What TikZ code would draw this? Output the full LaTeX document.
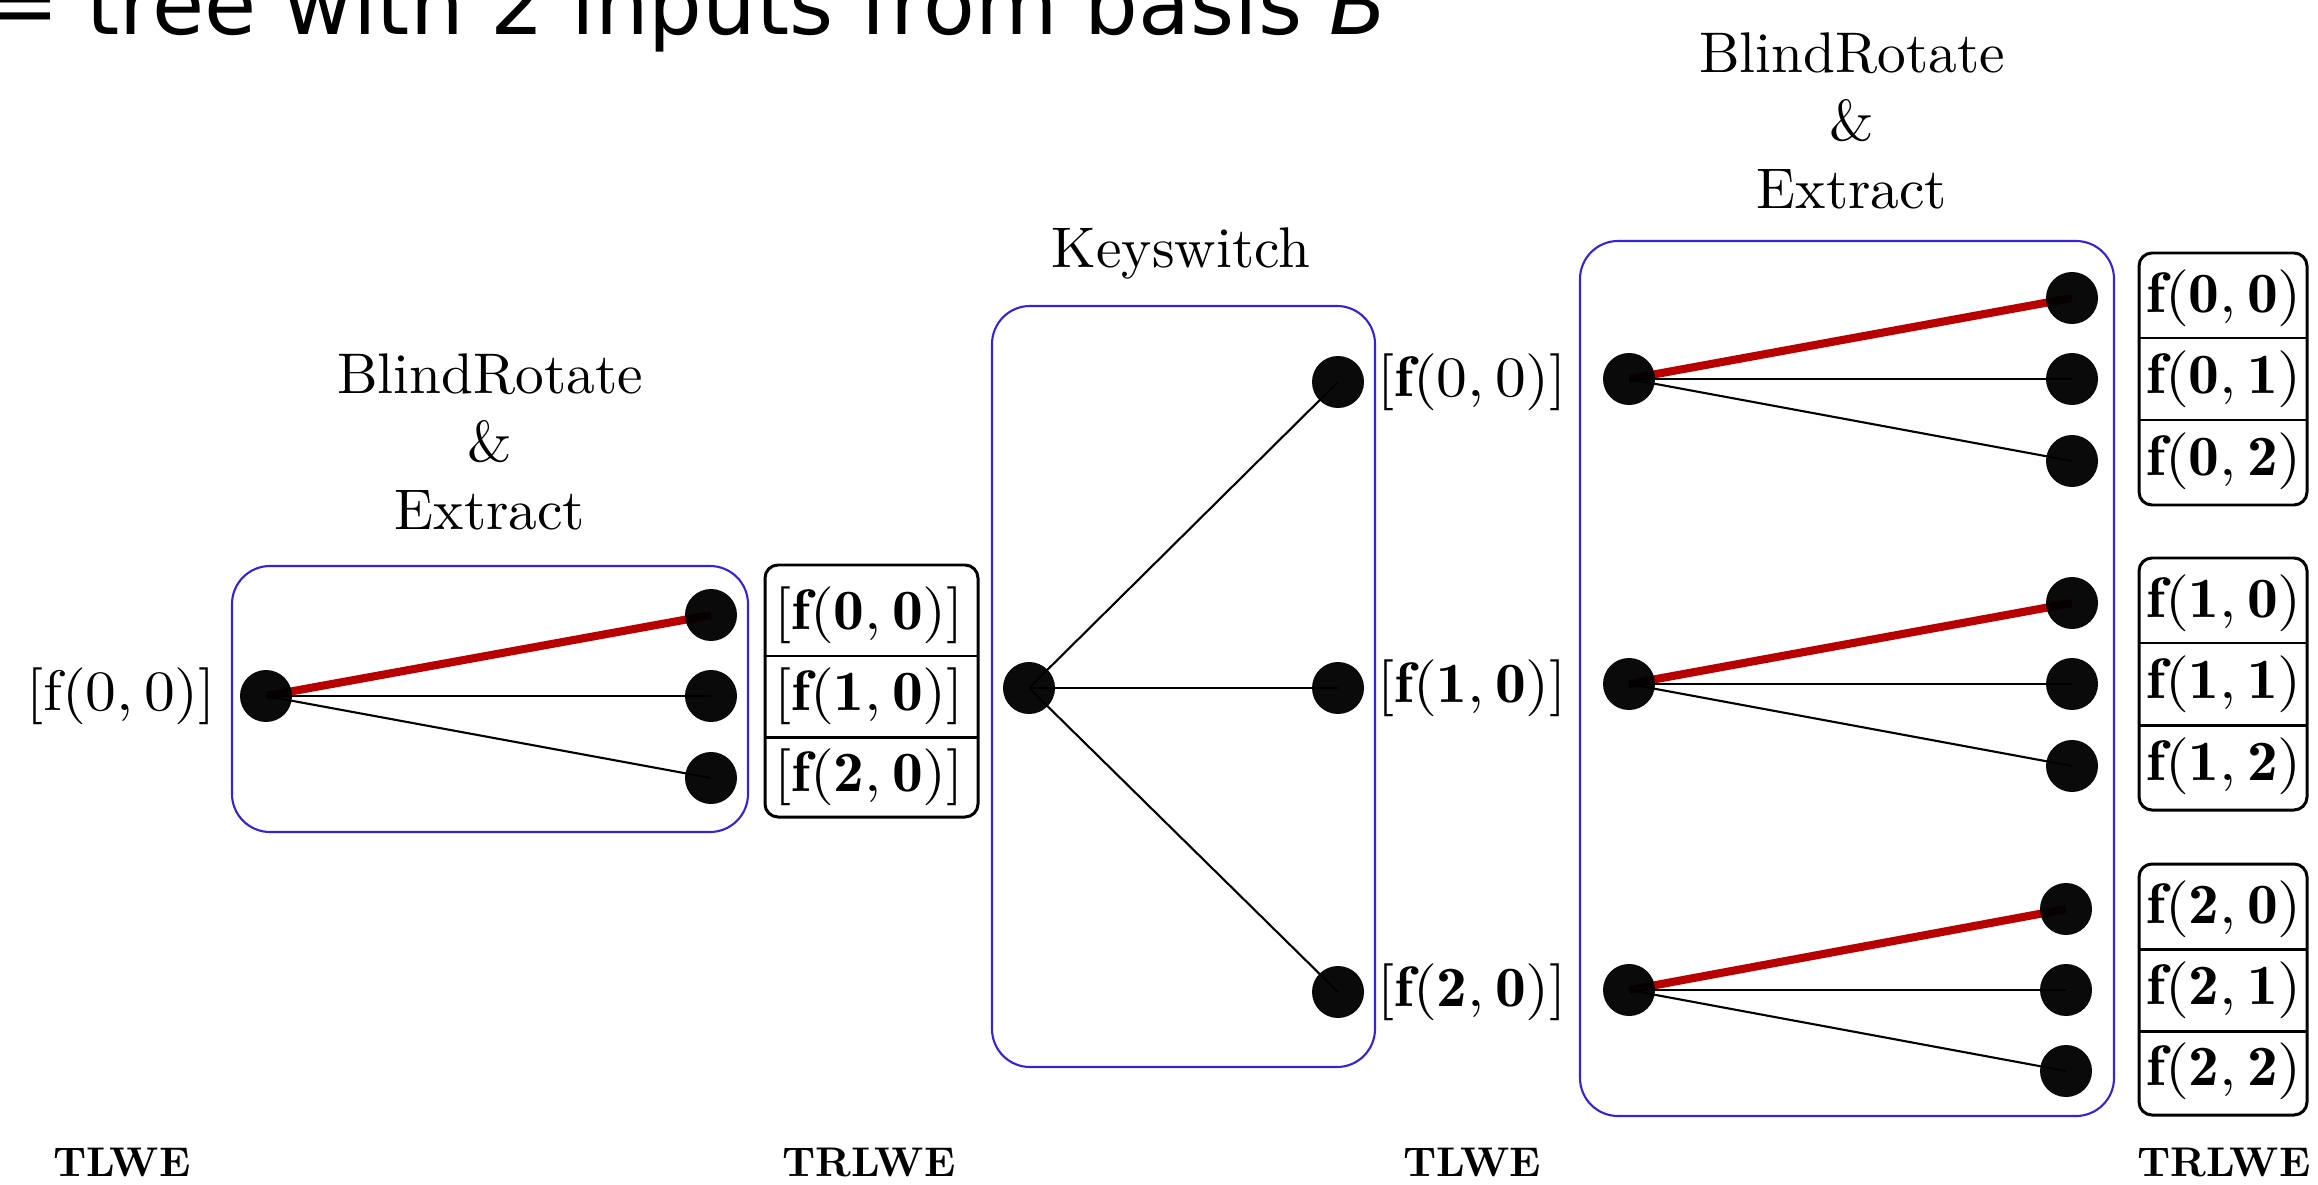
\documentclass[tikz,border=0pt]{standalone}
\usepackage{fix-cm}
\usepackage{fontspec}
\newfontfamily\djv{DejaVu Sans}
\usetikzlibrary{backgrounds}
\definecolor{boxblue}{RGB}{55,35,215}
\definecolor{edgered}{RGB}{185,0,0}
\begin{document}
\begin{tikzpicture}[x=0.01cm,y=-0.01cm,
  dot/.style={circle,fill=black,fill opacity=0.96,minimum size=0.52cm,inner sep=0pt},
  thinedge/.style={line width=0.6pt,black},
  rededge/.style={line width=2.3pt,edgered},
  bbox/.style={draw=boxblue,line width=0.6pt,rounded corners=0.38cm},
  tbl/.style={draw=black,line width=0.85pt,rounded corners=0.13cm},
  sep/.style={draw=black,line width=0.85pt},
  lbl/.style={font=\fontsize{10}{11.84}\selectfont,inner sep=0pt,xscale=1.75,yscale=1.62,transform shape},
  ttl/.style={font=\fontsize{10}{11.84}\selectfont,align=center,inner sep=0pt,scale=1.63,transform shape},
  typ/.style={font=\fontsize{10}{12}\selectfont\bfseries,inner sep=0pt,anchor=base,scale=1.18,transform shape},
]
\useasboundingbox (0,0) rectangle (2318,1185);
\clip (0,0) rectangle (2318,1185);

% heading (cut at the top)
\node[anchor=base west,inner sep=0pt,font=\djv\fontsize{24.1}{28}\selectfont] (head) at (-12,35) {= tree with 2 inputs from basis \textit{B}};

% frames
\draw[bbox] (232,566) rectangle (748,832);
\draw[bbox] (992,306) rectangle (1375,1067);
\draw[bbox] (1580,241) rectangle (2114,1116);

% titles
\node[ttl,anchor=south] (ttlA) at (490,531) {BlindRotate\\\&\\Extract};
\node[ttl,anchor=base] (ttlB) at (1181,268) {Keyswitch};
\node[ttl,anchor=south] (ttlC) at (1852,210) {BlindRotate\\\&\\Extract};

% first tree
\node[lbl] (inA) at (121,696) {$[\mathrm{f}(0,0)]$};
\node[dot] (a0) at (266,696) {};
\node[dot] (a1) at (711,615) {};
\node[dot] (a2) at (711,696) {};
\node[dot] (a3) at (711,778) {};

% table 1
\draw[tbl] (765,565) rectangle (978,817);
\draw[sep] (765,656) -- (978,656);
\draw[sep] (765,737) -- (978,737);
\node[lbl] (ta1) at (869,615) {$[\mathbf{f(0,0)}]$};
\node[lbl] (ta2) at (869,696) {$[\mathbf{f(1,0)}]$};
\node[lbl] (ta3) at (869,777) {$[\mathbf{f(2,0)}]$};

% keyswitch tree
\node[dot] (k0) at (1029,688) {};
\node[dot] (k1) at (1338,382) {};
\node[dot] (k2) at (1338,688) {};
\node[dot] (k3) at (1338,992) {};
\node[lbl] (kl1) at (1472,382) {$[\mathbf{f}(0,0)]$};
\node[lbl] (kl2) at (1472,688) {$[\mathbf{f(1,0)}]$};
\node[lbl] (kl3) at (1472,992) {$[\mathbf{f(2,0)}]$};

% last trees
\node[dot] (p0) at (1629,379) {};
\node[dot] (p1) at (2072,298) {};
\node[dot] (p2) at (2072,379) {};
\node[dot] (p3) at (2072,461) {};
\node[dot] (q0) at (1629,684) {};
\node[dot] (q1) at (2072,603) {};
\node[dot] (q2) at (2072,684) {};
\node[dot] (q3) at (2072,766) {};
\node[dot] (r0) at (1629,990) {};
\node[dot] (r1) at (2066,909) {};
\node[dot] (r2) at (2066,990) {};
\node[dot] (r3) at (2066,1071) {};

% right tables
\draw[tbl] (2139,253) rectangle (2307,505);
\draw[sep] (2139,338) -- (2307,338);
\draw[sep] (2139,420) -- (2307,420);
\node[lbl] (tp1) at (2224,298) {$\mathbf{f(0,0)}$};
\node[lbl] (tp2) at (2224,379) {$\mathbf{f(0,1)}$};
\node[lbl] (tp3) at (2224,461) {$\mathbf{f(0,2)}$};

\draw[tbl] (2139,558) rectangle (2307,810);
\draw[sep] (2139,643) -- (2307,643);
\draw[sep] (2139,725) -- (2307,725);
\node[lbl] (tq1) at (2224,603) {$\mathbf{f(1,0)}$};
\node[lbl] (tq2) at (2224,684) {$\mathbf{f(1,1)}$};
\node[lbl] (tq3) at (2224,766) {$\mathbf{f(1,2)}$};

\draw[tbl] (2139,864) rectangle (2307,1115);
\draw[sep] (2139,949) -- (2307,949);
\draw[sep] (2139,1031) -- (2307,1031);
\node[lbl] (tr1) at (2224,909) {$\mathbf{f(2,0)}$};
\node[lbl] (tr2) at (2224,990) {$\mathbf{f(2,1)}$};
\node[lbl] (tr3) at (2224,1071) {$\mathbf{f(2,2)}$};

% type labels
\node[typ] (ty1) at (122,1176) {TLWE};
\node[typ] (ty2) at (869,1176) {TRLWE};
\node[typ] (ty3) at (1472,1176) {TLWE};
\node[typ] (ty4) at (2224,1176) {TRLWE};

% edges
\begin{scope}[on background layer]
\draw[rededge] (a0.center) -- (a1.center);
\draw[thinedge] (a0.center) -- (a2.center);
\draw[thinedge] (a0.center) -- (a3.center);
\draw[thinedge] (k0.center) -- (k1.center);
\draw[thinedge] (k0.center) -- (k2.center);
\draw[thinedge] (k0.center) -- (k3.center);
\draw[rededge] (p0.center) -- (p1.center);
\draw[thinedge] (p0.center) -- (p2.center);
\draw[thinedge] (p0.center) -- (p3.center);
\draw[rededge] (q0.center) -- (q1.center);
\draw[thinedge] (q0.center) -- (q2.center);
\draw[thinedge] (q0.center) -- (q3.center);
\draw[rededge] (r0.center) -- (r1.center);
\draw[thinedge] (r0.center) -- (r2.center);
\draw[thinedge] (r0.center) -- (r3.center);
\end{scope}
\end{tikzpicture}
\end{document}
